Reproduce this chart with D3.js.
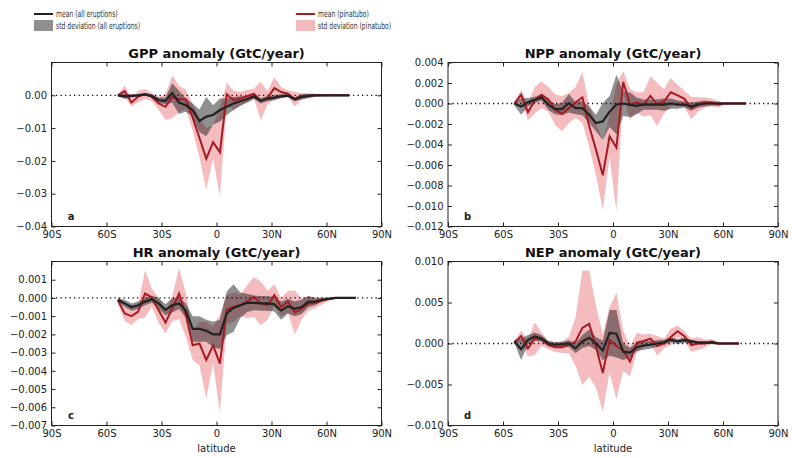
<!DOCTYPE html>
<html><head><meta charset="utf-8">
<script src="https://cdn.jsdelivr.net/npm/d3@7"></script>
<style>
body{margin:0;background:#fff;}
svg text{font-family:"DejaVu Sans",sans-serif;}
</style></head>
<body><svg id="chart" width="792" height="458"></svg>
<script>
// latitude grid (degrees)
const lat = [-53.81,-50.10,-46.39,-42.68,-38.97,-35.26,-31.54,-27.83,-24.12,-20.41,-16.70,-12.99,-9.28,-5.57,-1.86,1.86,5.57,9.28,12.99,16.70,20.41,24.12,27.83,31.54,35.26,38.97,42.68,46.39,50.10,53.81,57.52,61.23,64.94,68.65,72.36,76.07];
const xTickValues = [-90,-60,-30,0,30,60,90];
const xTickLabels = ["90S","60S","30S","0","30N","60N","90N"];

// GPP
const gppPinMean = [0,0.0013,-0.0022,-0.0004,0.0004,-0.0005,-0.0025,-0.0035,-0.0005,-0.0012,-0.0012,-0.0068,-0.013,-0.0194,-0.0143,-0.0174,0.0003,-0.0015,-0.001,-0.0003,0.0005,-0.0017,-0.0008,0.0022,0.001,0.0005,-0.0012,-0.0003,-0.0001,0,0,0,0,0,0];
const gppPinStd  = [0.0003,0.0018,0.0012,0.0018,0.0015,0.0012,0.002,0.004,0.0065,0.004,0.003,0.004,0.006,0.0094,0.005,0.0135,0.0035,0.003,0.002,0.002,0.0015,0.0058,0.002,0.0034,0.0015,0.001,0.0023,0.001,0.0008,0.0005,0.0003,0.0002,0.0001,0.0001,0.0001];
const gppAllMean = [0,-0.0003,-0.0002,0,0.0003,-0.0002,-0.0015,-0.0017,0.0007,-0.0022,-0.003,-0.0045,-0.0078,-0.0065,-0.006,-0.0045,-0.0035,-0.0025,-0.0018,-0.0012,-0.0003,-0.0017,-0.001,-0.0007,-0.0003,-0.0001,-0.0012,-0.0005,-0.0002,0,0,0,0,0,0];
const gppAllStd  = [0.0003,0.0008,0.0005,0.0004,0.0004,0.0005,0.0008,0.001,0.003,0.0035,0.002,0.002,0.0035,0.006,0.003,0.0035,0.0025,0.002,0.0015,0.001,0.0008,0.0008,0.0008,0.0008,0.0006,0.0005,0.0006,0.0008,0.0006,0.0004,0.0003,0.0002,0.0001,0.0001,0.0001];
const gppTicks = [0,-0.01,-0.02,-0.03,-0.04];

// NPP
const nppPinMean = [0,0.00085,-0.00085,0.0003,0.00085,0.0004,-0.0006,-0.001,-0.00045,0.0001,0.0006,-0.0022,-0.0045,-0.007,-0.0032,-0.0043,0.0021,-0.0001,0.0001,-0.0001,0.00075,-0.0001,0.0002,0.0011,0.0008,0.00045,-0.00045,-0.0001,0.0001,0.0001,-0.0001,0,0,0,0];
const nppPinStd  = [0.0002,0.0005,0.0008,0.0013,0.0013,0.0012,0.0015,0.0017,0.0015,0.0015,0.0025,0.002,0.0025,0.0034,0.002,0.0062,0.0011,0.0015,0.001,0.0012,0.0019,0.0021,0.0012,0.0014,0.001,0.0008,0.0011,0.0007,0.0005,0.0004,0.0003,0.0001,0.0001,0.0001,0.0001];
const nppAllMean = [0,-0.0003,0.00013,0.00035,0.0006,-0.00013,-0.00055,-0.00055,0.00003,-0.00045,-0.00045,-0.0011,-0.0019,-0.00175,-0.0008,-0.0001,0,-0.00013,-0.00023,-0.0001,-0.0001,-0.0001,-0.0001,0,-0.0001,-0.0001,-0.0003,-0.0001,0,0,0,0,0,0,0];
const nppAllStd  = [0.0002,0.0008,0.0004,0.0003,0.0003,0.0005,0.0005,0.0006,0.0009,0.0006,0.0007,0.0008,0.0008,0.0018,0.0015,0.0029,0.0012,0.0012,0.0008,0.0005,0.0005,0.0005,0.0006,0.0005,0.0004,0.0003,0.0004,0.0003,0.0003,0.0002,0.0002,0.0001,0.0001,0.0001,0.0001];
const nppTicks = [0.004,0.002,0,-0.002,-0.004,-0.006,-0.008,-0.010,-0.012];

// HR
const hrPinMean = [-0.00013,-0.00085,-0.001,-0.00075,0.00024,0.00002,-0.00067,-0.00135,-0.00058,0.00024,-0.00095,-0.0026,-0.0025,-0.0034,-0.0026,-0.0036,-0.00064,-0.0005,-0.0004,-0.0002,0.00005,-0.0003,-0.0004,0.00015,-0.0005,-0.0002,-0.0008,-0.0006,-0.0003,-0.00027,-0.00016,-0.00005,0,0,0,0];
const hrPinStd  = [0.0002,0.0004,0.0005,0.0004,0.0013,0.0005,0.0007,0.0006,0.0007,0.0014,0.0012,0.0008,0.0012,0.0021,0.001,0.0027,0.0008,0.0008,0.0006,0.0009,0.0011,0.0012,0.0008,0.0006,0.0005,0.0006,0.0012,0.0006,0.0004,0.0003,0.0002,0.0001,0.00005,0.00005,0.00005,0.00005];
const hrAllMean = [-0.0001,-0.0003,-0.0005,-0.0004,-0.0002,-0.00007,-0.0003,-0.00065,-0.0004,-0.0003,-0.0007,-0.0017,-0.0017,-0.0018,-0.002,-0.002,-0.00085,-0.00055,-0.0004,-0.00027,-0.00027,-0.0003,-0.0003,-0.00035,-0.0007,-0.00045,-0.0006,-0.0005,-0.0002,-0.0002,-0.0001,-0.00005,0,0,0,0];
const hrAllStd  = [0.0001,0.0002,0.0002,0.0002,0.0002,0.0002,0.0003,0.0003,0.0004,0.0003,0.0004,0.0007,0.0007,0.0006,0.0007,0.0008,0.0012,0.0013,0.0007,0.0005,0.0004,0.0004,0.0004,0.0004,0.0005,0.0004,0.0004,0.0004,0.0003,0.0002,0.0001,0.00005,0.00005,0.00005,0.00005,0.00005];
const hrTicks = [0.001,0,-0.001,-0.002,-0.003,-0.004,-0.005,-0.006,-0.007];

// NEP
const nepPinMean = [0.0001,0.0009,-0.0006,0.0006,0.0005,-0.0002,-0.00045,-0.00045,-0.0002,0.00025,0.0019,0.0024,-0.0004,-0.0036,0.00045,-0.0003,-0.00085,-0.0022,0.0001,0.0003,0.0006,-0.0003,0,0.0008,0.0015,0.0009,-0.0002,0,0,0.00025,0,0,0,0];
const nepPinStd  = [0.0002,0.0007,0.001,0.002,0.0008,0.0005,0.0006,0.0007,0.001,0.003,0.007,0.0065,0.005,0.0047,0.004,0.0065,0.0025,0.0018,0.0012,0.0008,0.0006,0.0012,0.0006,0.001,0.0007,0.0006,0.0008,0.0008,0.0005,0.0003,0.0002,0.0001,0.0001,0.0001];
const nepAllMean = [0.00025,-0.0007,0.00045,0.00085,0.0006,0,-0.00015,-0.0001,0,-0.0006,0.00025,0.0007,0,-0.00085,0.0013,0.0012,-0.001,-0.0011,-0.00045,-0.00025,-0.00015,0,0.00015,0.00045,0.00025,0.0004,0.00025,0.0001,0.0001,0.0001,0,0,0,0];
const nepAllStd  = [0.0002,0.0013,0.0006,0.0005,0.0004,0.0003,0.0003,0.0003,0.0004,0.0006,0.0008,0.001,0.0008,0.0012,0.0028,0.0029,0.001,0.0006,0.0005,0.0005,0.0005,0.0004,0.0003,0.0003,0.0003,0.0003,0.0002,0.0002,0.0002,0.0001,0.0001,0.0001,0.0001,0.0001];
const nepTicks = [0.010,0.005,0,-0.005,-0.010];

const panels = [
  {title:"GPP anomaly (GtC/year)", letter:"a", x0:51.5, y0:62.5, dom:[-0.04,0.01], ticks:gppTicks, fmt:".2f",
   pm:gppPinMean, ps:gppPinStd, am:gppAllMean, as:gppAllStd, xlab:false},
  {title:"NPP anomaly (GtC/year)", letter:"b", x0:448, y0:62.5, dom:[-0.012,0.004], ticks:nppTicks, fmt:".3f",
   pm:nppPinMean, ps:nppPinStd, am:nppAllMean, as:nppAllStd, xlab:false},
  {title:"HR anomaly (GtC/year)", letter:"c", x0:51.5, y0:261.5, dom:[-0.007,0.002], ticks:hrTicks, fmt:".3f",
   pm:hrPinMean, ps:hrPinStd, am:hrAllMean, as:hrAllStd, xlab:true},
  {title:"NEP anomaly (GtC/year)", letter:"d", x0:448, y0:261.5, dom:[-0.010,0.010], ticks:nepTicks, fmt:".3f",
   pm:nepPinMean, ps:nepPinStd, am:nepAllMean, as:nepAllStd, xlab:true}
];

const W = 330, H = 164;
const svg = d3.select("#chart");
const RED = "#a51c24", BLACK = "#222222";
const PINK = "rgba(226,70,80,0.36)", GRAY = "rgba(20,20,20,0.48)";

panels.forEach(p => {
  const g = svg.append("g").attr("transform", `translate(${p.x0},${p.y0})`);
  const x = d3.scaleLinear().domain([-90,90]).range([0,W]);
  const y = d3.scaleLinear().domain(p.dom).range([H,0]);
  const mk = (m,s) => m.map((v,i)=>({lat:lat[i], m:v, s:s[i]}));
  const pin = mk(p.pm,p.ps), all = mk(p.am,p.as);
  const area = d3.area().x(d=>x(d.lat)).y0(d=>y(d.m-d.s)).y1(d=>y(d.m+d.s));
  const line = d3.line().x(d=>x(d.lat)).y(d=>y(d.m));

  const clipId = "clip"+p.letter;
  g.append("clipPath").attr("id",clipId).append("rect").attr("width",W).attr("height",H);
  const pg = g.append("g").attr("clip-path",`url(#${clipId})`);

  pg.append("path").datum(pin).attr("d",area).attr("fill",PINK);
  pg.append("path").datum(all).attr("d",area).attr("fill",GRAY);
  pg.append("line").attr("x1",0).attr("x2",W).attr("y1",y(0)).attr("y2",y(0))
    .attr("stroke","#111").attr("stroke-width",1.3).attr("stroke-dasharray","1.3,3.2");
  pg.append("path").datum(pin).attr("d",line).attr("fill","none").attr("stroke",RED).attr("stroke-width",2).attr("stroke-linejoin","miter");
  pg.append("path").datum(all).attr("d",line).attr("fill","none").attr("stroke",BLACK).attr("stroke-width",2.2);

  // axes
  const fmt = d3.format(p.fmt);
  const ax = (sel)=>{sel.select(".domain").remove(); sel.selectAll("line").attr("stroke","#222"); sel.selectAll("text").attr("font-size",10).attr("fill","#222").attr("font-family","DejaVu Sans, sans-serif");};
  g.append("g").call(d3.axisLeft(y).tickValues(p.ticks).tickFormat(fmt).tickSize(-4).tickPadding(4.5)).call(ax);
  g.append("g").attr("transform",`translate(${W},0)`).call(d3.axisRight(y).tickValues(p.ticks).tickFormat("").tickSize(-4)).call(ax);
  g.append("g").attr("transform",`translate(0,${H})`).call(d3.axisBottom(x).tickValues(xTickValues).tickFormat((d,i)=>xTickLabels[i]).tickSize(-4).tickPadding(4)).call(ax);
  g.append("g").call(d3.axisTop(x).tickValues(xTickValues).tickFormat("").tickSize(-4)).call(ax);
  g.append("rect").attr("width",W).attr("height",H).attr("fill","none").attr("stroke","#222").attr("stroke-width",1);

  g.append("text").attr("x",W/2).attr("y",-5).attr("text-anchor","middle")
    .attr("font-size",13).attr("font-weight","bold").attr("fill","#111").text(p.title);
  g.append("text").attr("x",19.5).attr("y",H-7).attr("text-anchor","middle")
    .attr("font-size",10).attr("font-weight","bold").attr("fill","#222").text(p.letter);
  if (p.xlab) g.append("text").attr("x",W/2).attr("y",H+26.5).attr("text-anchor","middle")
    .attr("font-size",10).attr("fill","#222").text("latitude");
});

// legend
const legendItems = [
  {x:34, y:14, type:"line", color:BLACK, label:"mean (all eruptions)"},
  {x:34, y:25.5, type:"rect", color:"#8e8e8e", label:"std deviation (all eruptions)"},
  {x:296, y:14, type:"line", color:RED, label:"mean (pinatubo)"},
  {x:296, y:25.5, type:"rect", color:"#f2babd", label:"std deviation (pinatubo)"}
];
const lg = svg.append("g");
legendItems.forEach(it => {
  if (it.type==="line") lg.append("line").attr("x1",it.x).attr("x2",it.x+19).attr("y1",it.y).attr("y2",it.y).attr("stroke",it.color).attr("stroke-width",2);
  else lg.append("rect").attr("x",it.x).attr("y",it.y-5.5).attr("width",19).attr("height",11).attr("fill",it.color);
  lg.append("text").attr("transform",`translate(${it.x+22},${it.y+3.2}) scale(0.64,1)`)
    .attr("font-size",9.5).attr("font-family","'DejaVu Sans',sans-serif")
    .attr("fill","#333").text(it.label);
});
</script></body></html>
